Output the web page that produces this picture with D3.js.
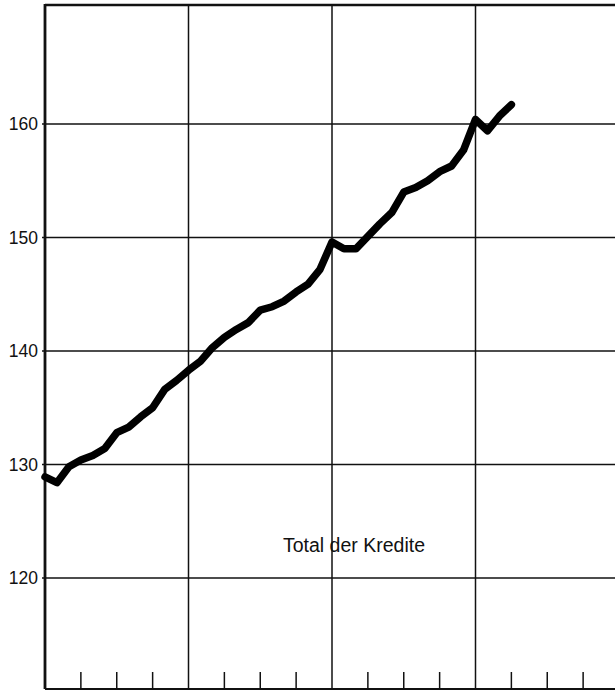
<!DOCTYPE html>
<html>
<head>
<meta charset="utf-8">
<script src="https://cdn.jsdelivr.net/npm/d3@7"></script>
<style>
  body { margin: 0; background: #fff; }
  .grid line { stroke: #111; stroke-width: 1.5; }
  .ylabel { font-family: "Liberation Sans", Arial, sans-serif; font-size: 17.5px; fill: #111; }
  .title { font-family: "Liberation Sans", Arial, sans-serif; font-size: 19.5px; fill: #111; }
</style>
</head>
<body>
<div id="chart"></div>
<script>
// monthly totals (index 0 = first month, years every 12 months)
const months = d3.range(0, 40);
const kredite = [
  128.9, 128.4, 129.8, 130.4, 130.8, 131.4, 132.8, 133.3, 134.2, 135.0, 136.6, 137.4,
  138.3, 139.1, 140.3, 141.2, 141.9, 142.5, 143.6, 143.9, 144.4, 145.2, 145.9, 147.2,
  149.6, 149.0, 149.0, 150.1, 151.2, 152.2, 154.0, 154.4, 155.0, 155.8, 156.3, 157.7,
  160.4, 159.4, 160.7, 161.7
];
const yTicks = [120, 130, 140, 150, 160];
const yearTicks = [0, 12, 24, 36, 48];
const quarterTicks = [3, 6, 9, 15, 18, 21, 27, 30, 33, 39, 42, 45];
const label = "Total der Kredite";

const width = 615, height = 690;
const plot = {left: 45, top: 5, right: 615, bottom: 689};

const svg = d3.select("#chart")
  .append("svg")
    .attr("width", width)
    .attr("height", height);

// scales
const x = d3.scaleLinear().domain([0, 48]).range([plot.left, 619]);
const y = d3.scaleLinear().domain([120, 160]).range([578, 124]);

// horizontal grid
svg.append("g").attr("class", "grid")
  .selectAll("line")
  .data(yTicks)
  .join("line")
    .attr("x1", plot.left - 3)
    .attr("x2", plot.right)
    .attr("y1", d => y(d))
    .attr("y2", d => y(d));

// year lines
svg.append("g").attr("class", "grid")
  .selectAll("line")
  .data(yearTicks.filter(d => d > 0))
  .join("line")
    .attr("x1", d => x(d))
    .attr("x2", d => x(d))
    .attr("y1", plot.top)
    .attr("y2", plot.bottom);

// quarter ticks along the bottom
svg.append("g").attr("class", "grid")
  .selectAll("line")
  .data(quarterTicks)
  .join("line")
    .attr("x1", d => x(d))
    .attr("x2", d => x(d))
    .attr("y1", plot.bottom - 17)
    .attr("y2", plot.bottom);

// frame: left axis, top and bottom
svg.append("line")
    .attr("x1", plot.left).attr("x2", plot.left)
    .attr("y1", plot.top - 1).attr("y2", plot.bottom)
    .attr("stroke", "#111").attr("stroke-width", 2.8);
svg.append("line")
    .attr("x1", plot.left).attr("x2", plot.right)
    .attr("y1", plot.top).attr("y2", plot.top)
    .attr("stroke", "#111").attr("stroke-width", 2.6);
svg.append("line")
    .attr("x1", plot.left).attr("x2", plot.right)
    .attr("y1", plot.bottom).attr("y2", plot.bottom)
    .attr("stroke", "#111").attr("stroke-width", 2);

// y labels
svg.append("g")
  .selectAll("text")
  .data(yTicks)
  .join("text")
    .attr("class", "ylabel")
    .attr("x", 38)
    .attr("y", d => y(d))
    .attr("dy", "0.35em")
    .attr("text-anchor", "end")
    .text(d => d);

// the line
const line = d3.line()
    .x((d, i) => x(months[i]))
    .y(d => y(d));

svg.append("path")
    .datum(kredite)
    .attr("fill", "none")
    .attr("stroke", "#000")
    .attr("stroke-width", 7.5)
    .attr("stroke-linejoin", "round")
    .attr("stroke-linecap", "round")
    .attr("d", line);

// series label
svg.append("text")
    .attr("class", "title")
    .attr("x", 283)
    .attr("y", 552)
    .text(label);
</script>
</body>
</html>
